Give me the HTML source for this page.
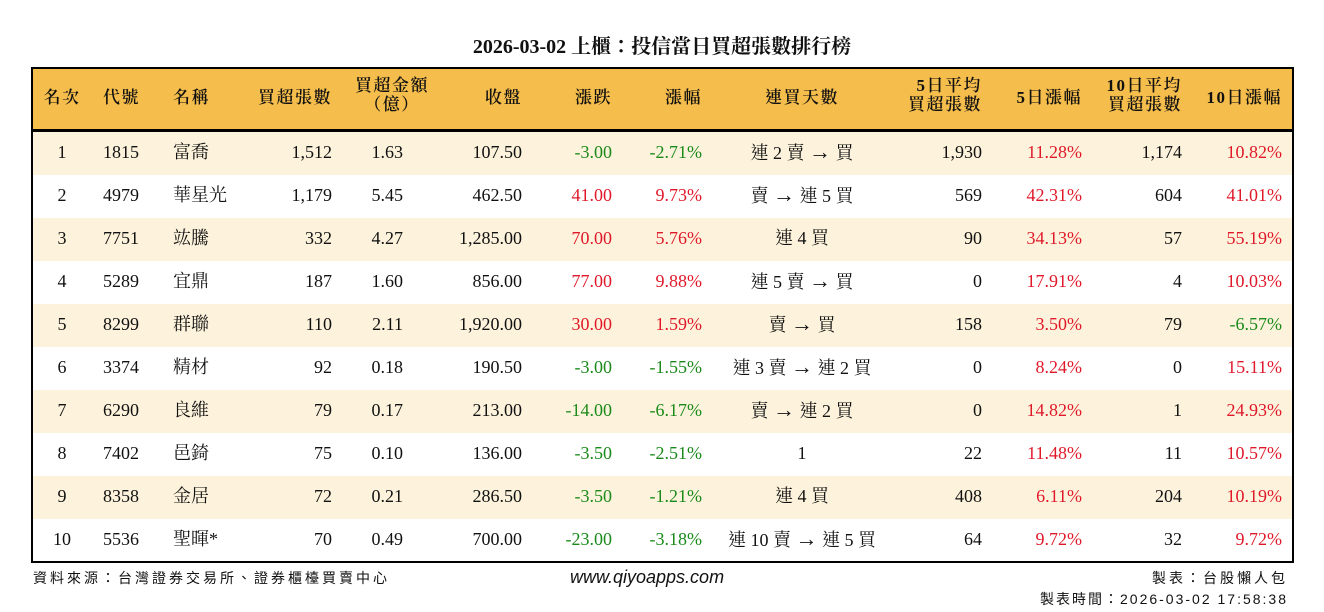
<!DOCTYPE html>
<html><head><meta charset="utf-8"><style>
body{margin:0;width:1324px;height:612px;background:#fff;position:relative;overflow:hidden;font-family:"Liberation Serif","Noto Serif CJK TC","Noto Serif CJK SC",serif;color:#111}
.t{position:absolute;white-space:nowrap;font-size:18px;line-height:20px}
.r{text-align:right}.c{text-align:center}
.g{color:#1a8a1a}.d{color:#e0192a}
#title{position:absolute;top:30px;left:0;width:1324px;text-align:center;font-size:20px;font-weight:bold}
#box{position:absolute;left:31px;top:67px;width:1259px;height:492px;border:2px solid #000}
#hd{position:absolute;left:0;top:0;width:100%;height:60px;background:#f5bd4b;border-bottom:3px solid #000}
.row{position:absolute;left:0;width:100%;height:43px}
.h{font-size:17px;line-height:19px;letter-spacing:1.5px;font-weight:600}
.foot{position:absolute;font-size:14px;font-family:"Liberation Sans","Noto Sans CJK TC",sans-serif;white-space:nowrap}
</style></head><body>
<div id="title">2026-03-02 上櫃：投信當日買超張數排行榜</div>
<div id="box">
<div id="hd"></div>
<div class="row" style="top:63px;background:#fdf3dc"></div>
<div class="row" style="top:149px;background:#fdf3dc"></div>
<div class="row" style="top:235px;background:#fdf3dc"></div>
<div class="row" style="top:321px;background:#fdf3dc"></div>
<div class="row" style="top:407px;background:#fdf3dc"></div>
</div>
<div id="cells"></div>
<script>
const H=[[62,'c','名次',1],[103,'l','代號',1],[173,'l','名稱',1],[332,'r','買超張數',1],[392,'c','買超金額<br>（億）',2],[522,'r','收盤',1],[612,'r','漲跌',1],[702,'r','漲幅',1],[802,'c','連買天數',1],[982,'r','5日平均<br>買超張數',2],[1082,'r','5日漲幅',1],[1182,'r','10日平均<br>買超張數',2],[1282,'r','10日漲幅',1]];
const C=[[62,'c'],[103,'l'],[173,'l'],[332,'r'],[403,'r'],[522,'r'],[612,'r'],[702,'r'],[802,'c'],[982,'r'],[1082,'r'],[1182,'r'],[1282,'r']];
const D=[
['1','1815','富喬','1,512','1.63','107.50','-3.00','-2.71%','連 2 賣 → 買','1,930','11.28%','1,174','10.82%'],
['2','4979','華星光','1,179','5.45','462.50','41.00','9.73%','賣 → 連 5 買','569','42.31%','604','41.01%'],
['3','7751','竑騰','332','4.27','1,285.00','70.00','5.76%','連 4 買','90','34.13%','57','55.19%'],
['4','5289','宜鼎','187','1.60','856.00','77.00','9.88%','連 5 賣 → 買','0','17.91%','4','10.03%'],
['5','8299','群聯','110','2.11','1,920.00','30.00','1.59%','賣 → 買','158','3.50%','79','-6.57%'],
['6','3374','精材','92','0.18','190.50','-3.00','-1.55%','連 3 賣 → 連 2 買','0','8.24%','0','15.11%'],
['7','6290','良維','79','0.17','213.00','-14.00','-6.17%','賣 → 連 2 買','0','14.82%','1','24.93%'],
['8','7402','邑錡','75','0.10','136.00','-3.50','-2.51%','1','22','11.48%','11','10.57%'],
['9','8358','金居','72','0.21','286.50','-3.50','-1.21%','連 4 買','408','6.11%','204','10.19%'],
['10','5536','聖暉*','70','0.49','700.00','-23.00','-3.18%','連 10 賣 → 連 5 買','64','9.72%','32','9.72%']];
let s='';
function cell(x,a,txt,y,cls){
 if(a=='c') return `<div class="t c ${cls}" style="left:${x-150}px;width:300px;top:${y}px">${txt}</div>`;
 if(a=='r') return `<div class="t r ${cls}" style="left:${x-300}px;width:300px;top:${y}px">${txt}</div>`;
 return `<div class="t ${cls}" style="left:${x}px;top:${y}px">${txt}</div>`;
}
H.forEach(h=>{s+=cell(h[0],h[1],h[2],h[3]==1?88:76,'h');});
D.forEach((r,i)=>{const y=142+i*43;r.forEach((v,j)=>{let cls='';
 if([6,7,10,12].includes(j)) cls=v.startsWith('-')?'g':'d';
 let t=v; if(j==8) t=v.replace(/ /g,'&nbsp;').replace('→','<span style="font-size:22px">→</span>');
 s+=cell(C[j][0],C[j][1],t,y,cls);});});
document.getElementById('cells').innerHTML=s;
</script>
<div class="foot" style="left:33px;top:568px;letter-spacing:3px">資料來源：台灣證券交易所、證券櫃檯買賣中心</div>
<div class="foot" style="left:570px;top:567px;font-size:18px;font-style:italic">www.qiyoapps.com</div>
<div class="foot" style="right:36px;top:568px;letter-spacing:3px">製表：台股懶人包</div>
<div class="foot" style="right:36px;top:589px;letter-spacing:2px">製表時間：2026-03-02 17:58:38</div>
</body></html>
